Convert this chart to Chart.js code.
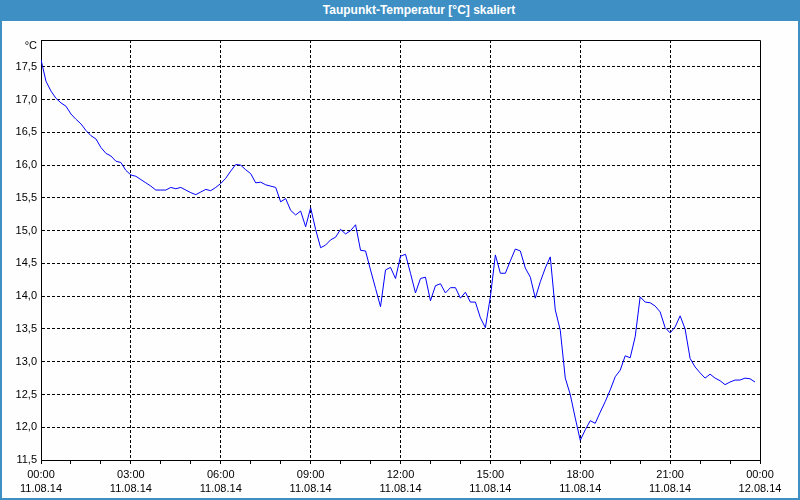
<!DOCTYPE html>
<html>
<head>
  <title>Taupunkt-Temperatur [°C] skaliert</title>
  <style>
    body { margin: 0; background: #fff; font-family: "Liberation Sans", sans-serif; }
    #frame { position: relative; width: 800px; height: 500px; background: #fdfefd; overflow: hidden; }
    #chart { position: absolute; left: 0; top: 0; }
    #titlebar {
      position: absolute; left: 0; top: 0; width: 800px; height: 21px;
      background: #3d8fc4; color: #fff; font-weight: bold; font-size: 12px;
      line-height: 21px; text-align: center; padding-left: 38px; box-sizing: border-box;
    }
    #edge {
      position: absolute; left: 0; top: 0; width: 800px; height: 500px;
      border: 2px solid #3d8fc4; border-top: none; box-sizing: border-box; pointer-events: none;
    }
  </style>
  <script src="https://cdn.jsdelivr.net/npm/chart.js"></script>
</head>
<body>
  <div id="frame">
    <canvas id="chart" width="800" height="500"></canvas>
    <div id="titlebar">Taupunkt-Temperatur [°C] skaliert</div>
    <div id="edge"></div>
  </div>
  <script>
    // measurement series, one value every 10 minutes starting 11.08.14 00:00
    const startDate = '11.08.14';
    const endDate = '12.08.14';
    const stepMinutes = 10;
    const unitLabel = '°C';
    const dewPoint = [
      17.61, 17.28, 17.13, 17.02, 16.95, 16.90, 16.78, 16.70, 16.63, 16.53,
      16.45, 16.40, 16.27, 16.18, 16.14, 16.06, 16.04, 15.92, 15.85, 15.83,
      15.78, 15.73, 15.68, 15.62, 15.62, 15.62, 15.66, 15.64, 15.66, 15.62,
      15.58, 15.55, 15.59, 15.63, 15.61, 15.66, 15.72, 15.80, 15.91, 16.01,
      16.00, 15.93, 15.87, 15.73, 15.74, 15.70, 15.68, 15.66, 15.44, 15.49,
      15.31, 15.24, 15.30, 15.06, 15.35, 15.02, 14.74, 14.78, 14.86, 14.90,
      15.02, 14.95, 15.00, 15.09, 14.70, 14.69, 14.40, 14.12, 13.84, 14.40,
      14.44, 14.27, 14.61, 14.64, 14.35, 14.05, 14.27, 14.29, 13.93, 14.16,
      14.19, 14.05, 14.13, 14.13, 13.97, 14.06, 13.91, 13.91, 13.67, 13.52,
      13.99, 14.63, 14.35, 14.35, 14.54, 14.72, 14.69, 14.43, 14.29, 13.97,
      14.22, 14.43, 14.60, 13.79, 13.48, 12.75, 12.50, 12.14, 11.80, 11.96,
      12.10, 12.06, 12.23, 12.39, 12.57, 12.77, 12.87, 13.09, 13.06, 13.38,
      13.99, 13.91, 13.90, 13.85, 13.76, 13.52, 13.44, 13.53, 13.70, 13.50,
      13.05, 12.92, 12.83, 12.75, 12.81, 12.75, 12.71, 12.65, 12.69, 12.72,
      12.72, 12.75, 12.74, 12.69
    ];

    const points = dewPoint.map((v, i) => ({ x: i * stepMinutes / 60, y: v }));
    const dash = [3, 2];

    // top/right frame and the unit label above the y axis
    const framePlugin = {
      id: 'frame',
      afterDraw(chart) {
        const { ctx, chartArea: a } = chart;
        ctx.save();
        ctx.strokeStyle = '#000';
        ctx.lineWidth = 1;
        ctx.setLineDash([]);
        ctx.beginPath();
        ctx.moveTo(Math.round(a.left) + 0.5, Math.round(a.top) + 0.5);
        ctx.lineTo(Math.round(a.right) + 0.5, Math.round(a.top) + 0.5);
        ctx.lineTo(Math.round(a.right) + 0.5, Math.round(a.bottom) + 0.5);
        ctx.stroke();
        ctx.fillStyle = '#000';
        ctx.font = '11px "Liberation Sans", sans-serif';
        ctx.textAlign = 'right';
        ctx.textBaseline = 'middle';
        ctx.fillText(unitLabel, a.left - 4, a.top + 6);
        ctx.restore();
      }
    };

    new Chart(document.getElementById('chart').getContext('2d'), {
      type: 'line',
      data: {
        datasets: [{
          data: points,
          borderColor: '#0000ff',
          borderWidth: 1,
          pointRadius: 0,
          tension: 0,
          fill: false
        }]
      },
      options: {
        responsive: false,
        animation: false,
        layout: { padding: { top: 40, right: 40, left: 0, bottom: 0 } },
        plugins: { legend: { display: false }, tooltip: { enabled: false } },
        scales: {
          x: {
            type: 'linear',
            min: 0,
            max: 24,
            afterFit: s => { s.height = 40; },
            ticks: {
              stepSize: 1,
              autoSkip: false,
              maxRotation: 0,
              color: '#000',
              padding: 3,
              font: { family: '"Liberation Sans", sans-serif', size: 11, lineHeight: 1.36 },
              callback: v => {
                if (v % 3 !== 0) return '';
                const h = String(v % 24).padStart(2, '0') + ':00';
                return [h, v < 24 ? startDate : endDate];
              }
            },
            grid: {
              color: c => (c.tick && c.tick.value % 3 === 0 && c.tick.value > 0 && c.tick.value < 24) ? '#000' : 'rgba(0,0,0,0)',
              tickColor: '#000',
              tickLength: 4,
              lineWidth: 1
            },
            border: { display: true, color: '#000', dash: dash, width: 1 }
          },
          y: {
            min: 11.5,
            max: 17.91,
            afterFit: s => { s.width = 41; },
            ticks: {
              stepSize: 0.5,
              includeBounds: false,
              color: '#000',
              padding: 4,
              font: { family: '"Liberation Sans", sans-serif', size: 11 },
              callback: v => v.toFixed(1).replace('.', ',')
            },
            grid: {
              color: '#000',
              lineWidth: 1,
              drawTicks: false
            },
            border: { display: true, color: '#000', dash: dash, width: 1 }
          }
        }
      },
      plugins: [framePlugin]
    });
  </script>
</body>
</html>
